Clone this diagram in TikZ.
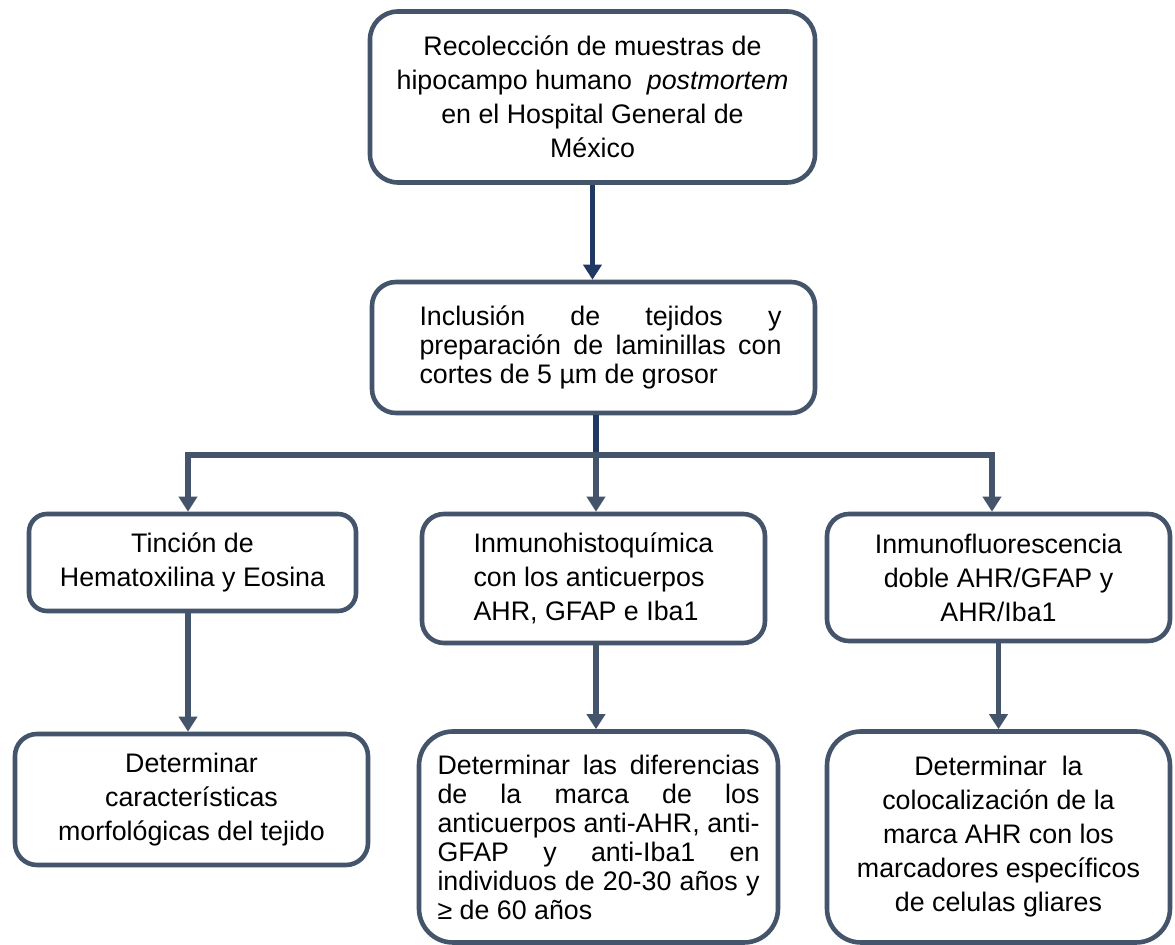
\documentclass[tikz,border=0pt]{standalone}
\usepackage{fontspec}
\setmainfont{Liberation Sans}
\usetikzlibrary{arrows.meta}
\definecolor{boxc}{HTML}{44546A}
\definecolor{navyc}{HTML}{1F3864}
\newcommand{\jl}[2]{\makebox[#1][s]{#2}}
\begin{document}
\begin{tikzpicture}[x=0.5pt,y=-0.5pt,
  box/.style={draw=boxc, line width=2.3pt, fill=white, inner sep=0pt, align=center,
    font=\fontsize{13.4pt}{17pt}\selectfont},
  tight/.style={font=\fontsize{13.4pt}{14.5pt}\selectfont},
  tipc/.style={-{Triangle[length=7.5pt,width=9pt]}},
  navyline/.style={draw=navyc, line width=2.7pt},
  grayline/.style={draw=boxc, line width=2.6pt},
]
\fill[white] (0,0) rectangle (1175,945);
\useasboundingbox (0,0) rectangle (1175,945);

\node[box, rounded corners=14pt, minimum width=222.5pt, minimum height=85.5pt] (b1) at (592.5,97)
  {Recolección de muestras de\\hipocampo humano\ \ \textit{postmortem}\\en el Hospital General de\\México};

\node[box, tight, rounded corners=12pt, minimum width=221.5pt, minimum height=65.5pt, align=left] (b2) at (593.5,347.5)
  {\hspace*{7pt}\jl{181pt}{Inclusión de tejidos y}\\\hspace*{7pt}\jl{181pt}{preparación de laminillas con}\\\hspace*{7pt}cortes de 5 µm de grosor\hspace*{0pt}};

\node[box, rounded corners=9pt, minimum width=163.5pt, minimum height=48.5pt] (b3a) at (192.5,562.5)
  {Tinción de\\Hematoxilina y Eosina};

\node[box, rounded corners=11pt, minimum width=171.5pt, minimum height=64.5pt, align=left] (b3b) at (593.5,578.5)
  {Inmunohistoquímica\\con los anticuerpos\\AHR, GFAP e Iba1};

\node[box, rounded corners=11pt, minimum width=171.5pt, minimum height=63.5pt] (b3c) at (998.5,577.5)
  {Inmunofluorescencia\\doble AHR/GFAP y\\AHR/Iba1};

\node[box, rounded corners=11pt, minimum width=176.5pt, minimum height=65.5pt] (b4a) at (191.5,799.5)
  {Determinar\\características\\morfológicas del tejido};

\node[box, tight, rounded corners=17pt, minimum width=179.5pt, minimum height=105.5pt, align=left] (b4b) at (598.5,837)
  {\jl{161pt}{Determinar las diferencias}\\\jl{161pt}{de la marca de los}\\\jl{161pt}{anticuerpos anti-AHR, anti-}\\\jl{161pt}{GFAP y anti-Iba1 en}\\\jl{161pt}{individuos de 20-30 años y}\\≥ de 60 años};

\node[box, rounded corners=17pt, minimum width=171.5pt, minimum height=105.5pt] (b4c) at (998.5,837)
  {Determinar\ \ la\\colocalización de la\\marca AHR con los\\marcadores específicos\\de celulas gliares};

\coordinate (j2) at (596,455);
\coordinate (jl) at (188,455);
\coordinate (jr) at (992,455);

\draw[navyline, tipc] (b1.south) -- (b1.south |- b2.north);
\draw[navyline] (b2.south -| j2) -- (j2);
\draw[grayline, tipc] (j2) -- (jl) -- (jl |- b3a.north);
\draw[grayline, tipc] (j2) -- (jr) -- (jr |- b3c.north);
\draw[grayline, tipc] (j2) -- (j2 |- b3b.north);

\draw[grayline, tipc] (b3a.south -| jl) -- (b4a.north -| jl);
\draw[grayline, tipc] (b3b.south -| j2) -- (b4b.north -| j2);
\draw[grayline, tipc] (b3c.south) -- (b3c.south |- b4c.north);
\end{tikzpicture}
\end{document}
